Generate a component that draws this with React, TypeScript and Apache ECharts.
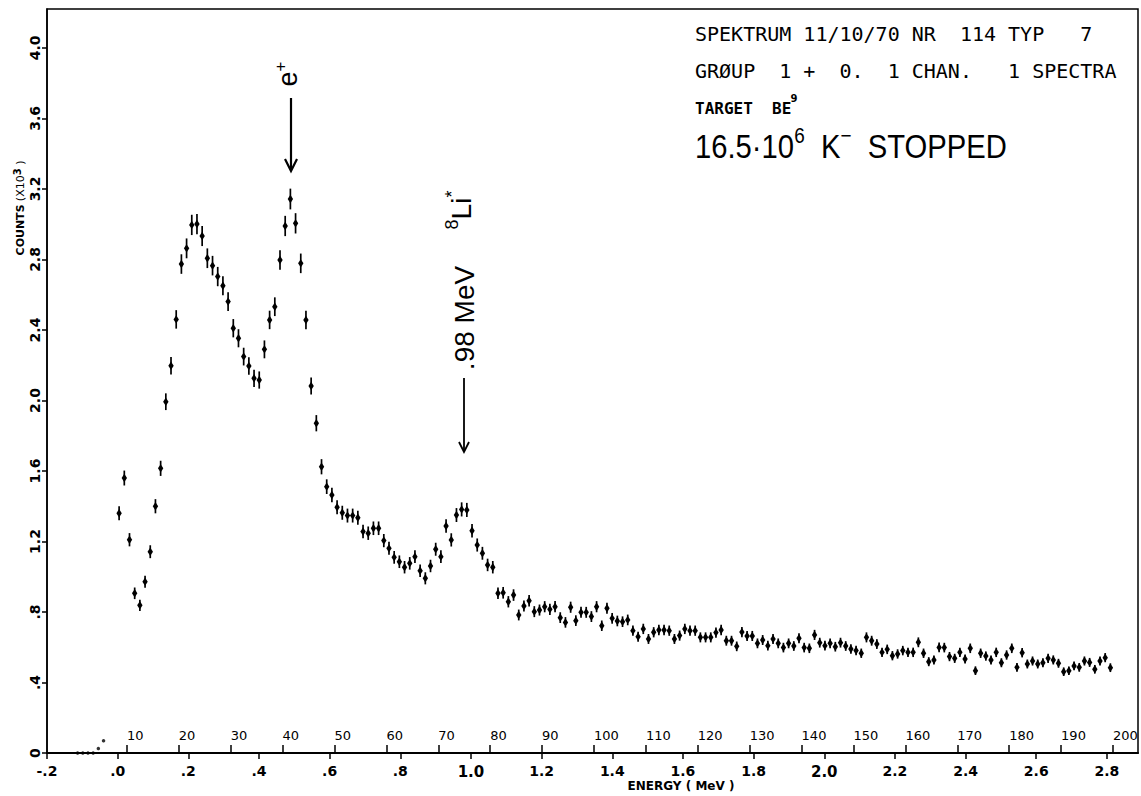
import React, { useEffect, useRef } from 'react';
import * as echarts from 'echarts';

// Spectrum: counts (x10^3) per channel, starting at channel 8
const FIRST_CHANNEL = 8;
const COUNTS = [
  1.36, 1.56, 1.21, 0.906, 0.838, 0.972, 1.142, 1.40, 1.615, 1.993,
  2.197, 2.46, 2.774, 2.863, 2.996, 3.001, 2.933, 2.807, 2.765, 2.703,
  2.651, 2.561, 2.41, 2.353, 2.249, 2.196, 2.126, 2.116, 2.29, 2.457,
  2.532, 2.797, 2.99, 3.143, 3.005, 2.778, 2.457, 2.082, 1.871, 1.624,
  1.511, 1.464, 1.394, 1.363, 1.347, 1.347, 1.335, 1.256, 1.247, 1.275,
  1.275, 1.205, 1.161, 1.110, 1.085, 1.054, 1.076, 1.114, 1.034, 0.991,
  1.061, 1.156, 1.114, 1.288, 1.209, 1.350, 1.382, 1.379, 1.261, 1.180,
  1.133, 1.067, 1.054, 0.906, 0.909, 0.858, 0.896, 0.783, 0.834, 0.864,
  0.802, 0.811, 0.83, 0.815, 0.83, 0.768, 0.741, 0.827, 0.751, 0.798,
  0.798, 0.774, 0.830, 0.722, 0.821, 0.764, 0.749, 0.745, 0.755, 0.694,
  0.660, 0.704, 0.647, 0.685, 0.698, 0.698, 0.694, 0.647, 0.666, 0.704,
  0.694, 0.694, 0.656, 0.656, 0.656, 0.683, 0.698, 0.637, 0.637, 0.605,
  0.686, 0.664, 0.664, 0.622, 0.641, 0.609, 0.647, 0.622, 0.598, 0.622,
  0.607, 0.651, 0.598, 0.594, 0.670, 0.626, 0.609, 0.622, 0.603, 0.626,
  0.607, 0.590, 0.581, 0.566, 0.656, 0.637, 0.618, 0.571, 0.588, 0.552,
  0.562, 0.581, 0.571, 0.571, 0.628, 0.566, 0.518, 0.528, 0.599, 0.598,
  0.547, 0.537, 0.571, 0.533, 0.594, 0.467, 0.566, 0.550, 0.528, 0.571,
  0.512, 0.556, 0.594, 0.486, 0.569, 0.505, 0.522, 0.505, 0.512, 0.537,
  0.528, 0.509, 0.461, 0.467, 0.494, 0.486, 0.522, 0.514, 0.475, 0.522,
  0.541, 0.484,
];

// Near-empty channels below the threshold
const PEDESTAL_CHANNELS = [0, 1, 2, 3, 4, 5];
const PEDESTAL_COUNTS = [0, 0, 0, 0, 0.025, 0.07];

// Axis tick labels
const ENERGY_LABELS = ['-.2', '.0', '.2', '.4', '.6', '.8', '1.0', '1.2', '1.4', '1.6', '1.8', '2.0', '2.2', '2.4', '2.6', '2.8'];
const CHANNEL_LABELS = ['10', '20', '30', '40', '50', '60', '70', '80', '90', '100', '110', '120', '130', '140', '150', '160', '170', '180', '190', '200'];
const COUNT_LABELS = ['0', '.4', '.8', '1.2', '1.6', '2.0', '2.4', '2.8', '3.2', '3.6', '4.0'];

const INK = '#000';
const PLOT_FONT = 'DejaVu Sans';

const pickLabel = (ticks: number[], labels: string[]) => (v: number) => {
  const i = ticks.findIndex((t) => Math.abs(t - v) < 1e-6);
  return i < 0 ? '' : labels[i];
};

export default function App() {
  const ref = useRef<HTMLDivElement>(null);

  useEffect(() => {
    if (!ref.current) return;
    const chart = echarts.init(ref.current, null, { renderer: 'svg' });

    const energyTicks = ENERGY_LABELS.map(Number);
    const channelTicks = CHANNEL_LABELS.map(Number);
    const countTicks = COUNT_LABELS.map(Number);
    const energyLabel = pickLabel(energyTicks, ENERGY_LABELS);
    const channelLabel = pickLabel(channelTicks, CHANNEL_LABELS);
    const countLabel = pickLabel(countTicks, COUNT_LABELS);

    // each point sits at its bin centre, with a Poisson error bar
    const spectrum = COUNTS.map((v, i) => [FIRST_CHANNEL + i + 0.5, v, Math.sqrt(v * 1000) / 1000]);
    const pedestal = PEDESTAL_CHANNELS.map((c, i) => [c + 0.5, PEDESTAL_COUNTS[i]]);

    const renderPoint = (params: any, api: any) => {
      const x = api.value(0);
      const v = api.value(1);
      const e = api.value(2);
      const c = api.coord([x, v]);
      const hi = api.coord([x, v + e]);
      const lo = api.coord([x, v - e]);
      return {
        type: 'group',
        children: [
          { type: 'line', shape: { x1: c[0], y1: hi[1] - 0.5, x2: c[0], y2: lo[1] + 0.5 }, style: { stroke: INK, lineWidth: 1.7 } },
          {
            type: 'polygon',
            shape: { points: [[c[0], c[1] - 4.2], [c[0] + 2.7, c[1]], [c[0], c[1] + 4.2], [c[0] - 2.7, c[1]]] },
            style: { fill: INK },
          },
        ],
      };
    };

    const rot = Math.PI / 2;

    chart.setOption({
      animation: false,
      backgroundColor: '#fff',
      grid: { left: 47, right: 3, top: 9, bottom: 43, show: true, borderColor: INK, borderWidth: 1.5 },
      xAxis: [
        {
          type: 'value',
          position: 'bottom',
          min: -0.2,
          max: 2.888,
          axisLine: { show: true, onZero: false, lineStyle: { color: INK, width: 2 } },
          axisTick: { show: true, inside: false, length: 6, customValues: energyTicks, lineStyle: { color: INK, width: 1.5 } },
          axisLabel: {
            customValues: energyTicks,
            formatter: (v: number) => {
              const s = energyLabel(v);
              return s === '1.0' || s === '2.0' ? `{b|${s}}` : s;
            },
            margin: 11,
            color: INK,
            fontFamily: PLOT_FONT,
            fontSize: 14,
            fontWeight: 'bold',
            rich: { b: { fontFamily: PLOT_FONT, fontSize: 15, fontWeight: 'bold', color: INK } },
          },
          splitLine: { show: false },
        },
        {
          type: 'value',
          position: 'bottom',
          min: -5.395,
          max: 204.82,
          axisLine: { show: false, onZero: false },
          axisTick: { show: true, inside: true, length: 8, customValues: channelTicks, lineStyle: { color: INK, width: 1.5 } },
          axisLabel: {
            inside: true,
            customValues: channelTicks,
            formatter: (v: number) => channelLabel(v),
            align: 'left',
            margin: 11,
            color: INK,
            fontFamily: PLOT_FONT,
            fontSize: 13,
          },
          splitLine: { show: false },
        },
      ],
      yAxis: {
        type: 'value',
        min: 0,
        max: 4.221,
        axisLine: { show: true, onZero: false, lineStyle: { color: INK, width: 1.5 } },
        axisTick: { show: true, inside: false, length: 5, customValues: countTicks, lineStyle: { color: INK, width: 1.5 } },
        axisLabel: {
          customValues: countTicks,
          formatter: (v: number) => countLabel(v),
          rotate: 90,
          margin: 5,
          color: INK,
          fontFamily: PLOT_FONT,
          fontSize: 14,
          fontWeight: 'bold',
        },
        splitLine: { show: false },
      },
      series: [
        {
          type: 'custom',
          name: 'spectrum',
          xAxisIndex: 1,
          yAxisIndex: 0,
          renderItem: renderPoint,
          data: spectrum,
          z: 4,
        },
        {
          type: 'scatter',
          name: 'pedestal',
          xAxisIndex: 1,
          yAxisIndex: 0,
          data: pedestal,
          symbol: 'circle',
          symbolSize: 3.5,
          itemStyle: { color: INK },
          z: 5,
        },
      ],
      graphic: [
        // axis titles
        {
          type: 'text',
          x: 20,
          y: 208,
          rotation: rot,
          style: {
            text: '{b|COUNTS} {n|(X10}{s|3}{n| )}',
            align: 'center',
            verticalAlign: 'middle',
            fill: INK,
            rich: {
              b: { fontFamily: PLOT_FONT, fontSize: 11, fontWeight: 'bold', lineHeight: 16, fill: INK },
              n: { fontFamily: PLOT_FONT, fontSize: 11, lineHeight: 16, fill: INK },
              s: { fontFamily: PLOT_FONT, fontSize: 10, fontWeight: 'bold', verticalAlign: 'top', lineHeight: 10, fill: INK },
            },
          },
        },
        {
          type: 'text',
          x: 681,
          y: 786,
          style: { text: 'ENERGY ( MeV )', fontFamily: PLOT_FONT, fontSize: 12, fontWeight: 'bold', align: 'center', verticalAlign: 'middle', fill: INK },
        },
        // e+ annihilation marker
        {
          type: 'text',
          x: 288,
          y: 74,
          rotation: rot,
          style: {
            text: '{m|e}{s|+}',
            align: 'center',
            verticalAlign: 'middle',
            fill: INK,
            rich: {
              m: { fontFamily: 'Liberation Sans', fontSize: 27, lineHeight: 32, fill: INK },
              s: { fontFamily: 'Liberation Sans', fontSize: 17, verticalAlign: 'top', lineHeight: 17, fill: INK },
            },
          },
        },
        { type: 'line', shape: { x1: 291, y1: 98, x2: 291, y2: 170 }, style: { stroke: INK, lineWidth: 2.2 } },
        { type: 'polyline', shape: { points: [[285, 159], [291, 171], [297, 159]] }, style: { stroke: INK, lineWidth: 2.2, fill: 'none' } },
        // 8Li* excited state marker
        {
          type: 'text',
          x: 464,
          y: 318,
          rotation: rot,
          style: { text: '.98 MeV', fontFamily: 'Liberation Sans', fontSize: 28, align: 'center', verticalAlign: 'middle', fill: INK },
        },
        {
          type: 'text',
          x: 461,
          y: 210,
          rotation: rot,
          style: {
            text: '{s|8}{m|Li}{s|*}',
            align: 'center',
            verticalAlign: 'middle',
            fill: INK,
            rich: {
              m: { fontFamily: 'Liberation Sans', fontSize: 28, lineHeight: 36, fill: INK },
              s: { fontFamily: 'Liberation Sans', fontSize: 18, verticalAlign: 'top', lineHeight: 18, fill: INK },
            },
          },
        },
        { type: 'line', shape: { x1: 464, y1: 378, x2: 464, y2: 451 }, style: { stroke: INK, lineWidth: 1.8 } },
        { type: 'polyline', shape: { points: [[459, 442], [464, 452], [469, 442]] }, style: { stroke: INK, lineWidth: 1.8, fill: 'none' } },
        // run header
        {
          type: 'text',
          x: 695,
          y: 34,
          style: { text: 'SPEKTRUM 11/10/70 NR  114 TYP   7', fontFamily: 'DejaVu Sans Mono', fontSize: 20, align: 'left', verticalAlign: 'middle', fill: INK },
        },
        {
          type: 'text',
          x: 695,
          y: 71,
          style: { text: 'GRØUP  1 +  0.  1 CHAN.   1 SPECTRA', fontFamily: 'DejaVu Sans Mono', fontSize: 20, align: 'left', verticalAlign: 'middle', fill: INK },
        },
        {
          type: 'text',
          x: 695,
          y: 108,
          style: { text: 'TARGET  BE', fontFamily: 'DejaVu Sans Mono', fontSize: 16, fontWeight: 'bold', align: 'left', verticalAlign: 'middle', fill: INK },
        },
        {
          type: 'text',
          x: 794,
          y: 98,
          style: { text: '9', fontFamily: 'DejaVu Sans', fontSize: 10, fontWeight: 'bold', align: 'center', verticalAlign: 'middle', fill: INK },
        },
        {
          type: 'text',
          x: 695,
          y: 146,
          scaleX: 0.86,
          style: {
            text: '{m|16.5·10}{s|6}{m|  K}{s|−}{m|  STOPPED}',
            align: 'left',
            verticalAlign: 'middle',
            fill: INK,
            rich: {
              m: { fontFamily: 'Liberation Sans', fontSize: 34, lineHeight: 44, fill: INK },
              s: { fontFamily: 'Liberation Sans', fontSize: 22, verticalAlign: 'top', lineHeight: 22, fill: INK },
            },
          },
        },
      ],
    });

    return () => chart.dispose();
  }, []);

  return <div ref={ref} style={{ position: 'fixed', left: 0, top: 0, width: 1141, height: 796 }} />;
}
